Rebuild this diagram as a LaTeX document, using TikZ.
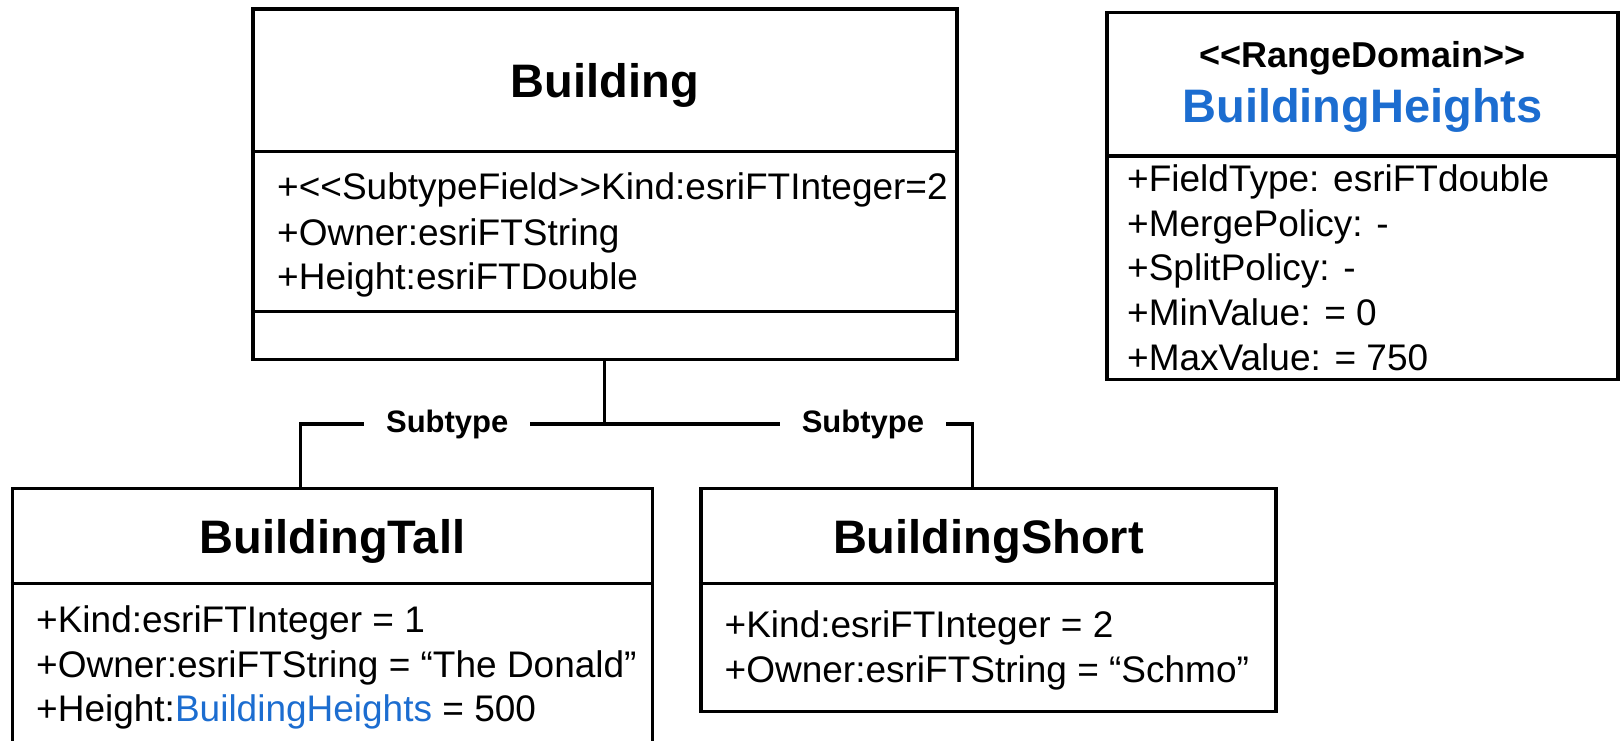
\documentclass[tikz,border=0pt]{standalone}
\usepackage{fontspec}
\setmainfont{Liberation Sans}[Ligatures=TeXOff]
\definecolor{domainblue}{HTML}{1C6DD0}
\tikzset{
  classbox/.style={draw, line width=3.6pt, rectangle, inner sep=0pt},
  divider/.style={line width=3.6pt},
  conn/.style={line width=3.4pt},
  classname/.style={anchor=base, inner sep=0pt, font=\fontsize{47}{56}\selectfont\bfseries},
  stereo/.style={anchor=base, inner sep=0pt, font=\fontsize{36}{43}\selectfont\bfseries},
  attr/.style={anchor=base west, inner sep=0pt, font=\fontsize{37}{44}\selectfont},
  role/.style={fill=white, inner xsep=22pt, inner ysep=0pt, text height=23pt, text depth=7pt,
               font=\fontsize{31}{37}\selectfont\bfseries},
}
\begin{document}
\begin{tikzpicture}[x=1pt,y=-1pt]
\useasboundingbox (0,0) rectangle (1623,741);
\clip (0,0) rectangle (1623,741);

% class boxes
\node[classbox, minimum width=704pt, minimum height=350.3pt] (building) at (604.7,184.2) {};
\node[classbox, minimum width=511pt, minimum height=367pt] (heights) at (1362.5,196) {};
\node[classbox, minimum width=640.1pt, minimum height=281.7pt] (tall) at (332.45,629.15) {};
\node[classbox, minimum width=575.3pt, minimum height=223.2pt] (short) at (988.35,599.9) {};

% compartment dividers
\draw[divider] (building.west |- 0,151.5) -- (building.east |- 0,151.5);
\draw[divider] (building.west |- 0,311.5) -- (building.east |- 0,311.5);
\draw[divider] (heights.west |- 0,156) -- (heights.east |- 0,156);
\draw[divider] (tall.west |- 0,583.5) -- (tall.east |- 0,583.5);
\draw[divider] (short.west |- 0,583.5) -- (short.east |- 0,583.5);

% Building
\node[classname] (building-name) at (604.7,98) {Building};
\node[attr] (building-a1) at (277,200) {+<<SubtypeField>>Kind:esriFTInteger=2};
\node[attr] (building-a2) at (277,245) {+Owner:esriFTString};
\node[attr] (building-a3) at (277,289) {+Height:esriFTDouble};

% BuildingHeights range domain
\node[stereo] (heights-stereo) at (1362.5,68) {<<RangeDomain>>};
\node[classname, text=domainblue] (heights-name) at (1362.5,123) {BuildingHeights};
\node[attr] (heights-a1) at (1127,192) {+FieldType: esriFTdouble};
\node[attr] (heights-a2) at (1127,236) {+MergePolicy: -};
\node[attr] (heights-a3) at (1127,280.5) {+SplitPolicy: -};
\node[attr] (heights-a4) at (1127,325) {+MinValue: = 0};
\node[attr] (heights-a5) at (1127,370) {+MaxValue: = 750};

% BuildingTall
\node[classname] (tall-name) at (332.45,553) {BuildingTall};
\node[attr] (tall-a1) at (36,632.5) {+Kind:esriFTInteger = 1};
\node[attr] (tall-a2) at (36,677) {+Owner:esriFTString = “The Donald”};
\node[attr] (tall-a3) at (36,721) {+Height:\textcolor{domainblue}{BuildingHeights} = 500};

% BuildingShort
\node[classname] (short-name) at (988.35,553) {BuildingShort};
\node[attr] (short-a1) at (724.5,637.5) {+Kind:esriFTInteger = 2};
\node[attr] (short-a2) at (724.5,682.5) {+Owner:esriFTString = “Schmo”};

% subtype connectors
\coordinate (jn) at (building.south |- 0,424);
\coordinate (tdrop) at (300.7,424);
\coordinate (sdrop) at (972.7,424);
\draw[conn] (building.south) -- (jn);
\draw[conn] (jn) -- node[role, pos=0.518] (tall-role) {Subtype} (tdrop) -- (tdrop |- tall.north);
\draw[conn] (jn) -- node[role, pos=0.7017] (short-role) {Subtype} (sdrop) -- (sdrop |- short.north);
\end{tikzpicture}
\end{document}
